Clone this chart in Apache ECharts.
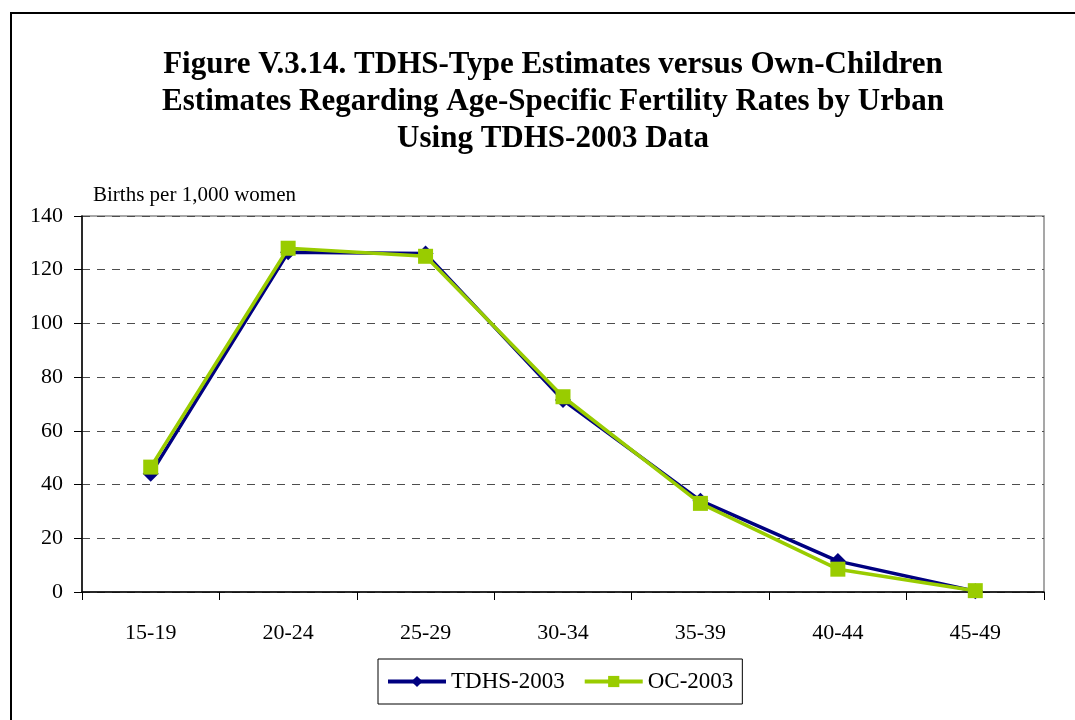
<!DOCTYPE html>
<html><head><meta charset="utf-8">
<script src="https://cdn.jsdelivr.net/npm/echarts@6/dist/echarts.min.js"></script>
<style>html,body{margin:0;padding:0;background:#fff}#c{width:1075px;height:720px}</style>
</head><body><div id="c"></div>
<script>
const categories = ['15-19','20-24','25-29','30-34','35-39','40-44','45-49'];
const tdhs2003 = [44, 126.5, 126, 71.5, 34, 11.5, 0.3];
const oc2003 = [46.5, 128, 125, 72.7, 33, 8.5, 0.5];
const yTicks = {min: 0, max: 140, interval: 20};
const titleLines = ['Figure V.3.14. TDHS-Type Estimates versus Own-Children','Estimates Regarding Age-Specific Fertility Rates by Urban','Using TDHS-2003 Data'];

const chart = echarts.init(document.getElementById('c'));
const serif = '"Liberation Serif","Times New Roman",serif';
chart.setOption({
  animation: false,
  backgroundColor: '#fff',
  graphic: [
    {type:'rect', shape:{x:11, y:13, width:1200, height:900}, style:{fill:'none', stroke:'#000', lineWidth:2}, z:-1},
    {type:'text', x: 553, y: 46, style: {text: titleLines.join('\n'), align: 'center', verticalAlign: 'top',
      fontFamily: serif, fontWeight: 'bold', fontSize: 31, lineHeight: 37, fill: '#000'}}
  ],
  grid: {left: 82, right: 31, top: 216, bottom: 128, show: true, borderColor: '#8a8a8a', borderWidth: 1.5},
  legend: {
    bottom: 16, left: 378,
    itemWidth: 58, itemHeight: 14, itemGap: 18,
    borderColor: '#000', borderWidth: 1, borderRadius: 0, padding: [11, 9, 11, 8],
    textStyle: {fontFamily: serif, fontSize: 23, color: '#000'},
    data: [
      {name: 'TDHS-2003', lineStyle: {width: 4}},
      {name: 'OC-2003', lineStyle: {width: 4}}
    ]
  },
  xAxis: {
    type: 'category', data: categories, boundaryGap: true,
    axisLine: {lineStyle: {color: '#000', width: 1.5}},
    axisTick: {show: true, alignWithLabel: false, length: 8, lineStyle: {color: '#000'}},
    axisLabel: {fontFamily: serif, fontSize: 22, color: '#000', margin: 30}
  },
  yAxis: {
    type: 'value', min: yTicks.min, max: yTicks.max, interval: yTicks.interval,
    name: 'Births per 1,000 women', nameLocation: 'end', nameGap: 10,
    nameTextStyle: {fontFamily: serif, fontSize: 21, color: '#000', align: 'left', padding: [0,0,0,11]},
    axisLine: {show: true, lineStyle: {color: '#000', width: 1.5}},
    axisTick: {show: true, length: 8, lineStyle: {color: '#000'}},
    axisLabel: {fontFamily: serif, fontSize: 22, color: '#000', margin: 19},
    splitLine: {show: true, lineStyle: {color: '#4d4d4d', type: [8, 7], width: 1}}
  },
  series: [
    {name: 'TDHS-2003', type: 'line', data: tdhs2003, symbol: 'diamond', symbolSize: 16,
     itemStyle: {color: '#000080'}, lineStyle: {color: '#000080', width: 3.5}, z: 2},
    {name: 'OC-2003', type: 'line', data: oc2003, symbol: 'rect', symbolSize: 15,
     itemStyle: {color: '#99CC00'}, lineStyle: {color: '#99CC00', width: 3.5}, z: 3}
  ]
});
</script></body></html>
